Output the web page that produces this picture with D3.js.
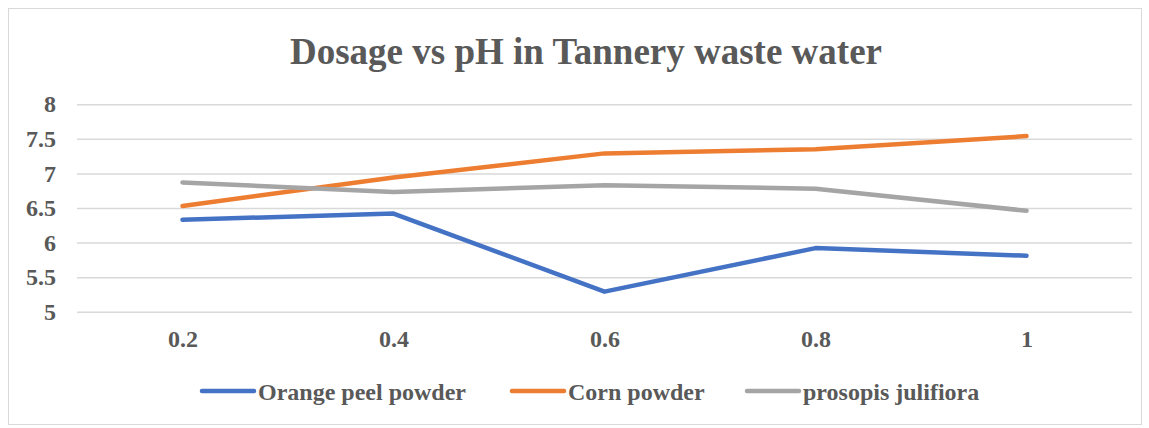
<!DOCTYPE html>
<html>
<head>
<meta charset="utf-8">
<script src="https://cdn.jsdelivr.net/npm/d3@7"></script>
<style>
  body { margin: 0; background: #fff; }
</style>
</head>
<body>
<div class="mainContainer"></div>
<script>
// data
const dosage = ['0.2', '0.4', '0.6', '0.8', '1'];
const orangePeel = [6.33, 6.42, 5.29, 5.92, 5.81];
const cornPowder = [6.53, 6.94, 7.29, 7.35, 7.54];
const prosopis = [6.87, 6.73, 6.83, 6.78, 6.46];
const yTicks = [5, 5.5, 6, 6.5, 7, 7.5, 8];
const seriesNames = ['Orange peel powder', 'Corn powder', 'prosopis julifiora'];

const series = [
    {name: seriesNames[0], values: orangePeel, color: '#4472C4'},
    {name: seriesNames[1], values: cornPowder, color: '#ED7D31'},
    {name: seriesNames[2], values: prosopis, color: '#A5A5A5'}
];

const W = 1149, H = 428;
const FONT = '"Liberation Serif", "Times New Roman", serif';
const TXT = '#595959';

const svg = d3.select('.mainContainer')
    .append('svg')
    .attr('width', W)
    .attr('height', H);

// chart area border
svg.append('rect')
    .attr('x', 8.5).attr('y', 8.5)
    .attr('width', 1133).attr('height', 416)
    .attr('fill', '#fff')
    .attr('stroke', '#D9D9D9')
    .attr('stroke-width', 1);

svg.append('text')
    .attr('x', 586).attr('y', 64)
    .attr('text-anchor', 'middle')
    .attr('font-family', FONT)
    .attr('font-weight', 'bold')
    .attr('fill', TXT)
    .attr('font-size', 37)
    .text('Dosage vs pH in Tannery waste water');

const x = d3.scalePoint()
    .domain(dosage)
    .range([77, 1132])
    .padding(0.5);

const y = d3.scaleLinear()
    .domain([5, 8])
    .range([311.7, 104.3]);

const yAxisGroup = svg.append('g')
    .attr('transform', 'translate(77,0)')
    .call(d3.axisLeft(y)
        .tickValues(yTicks)
        .tickSize(-(1132 - 77))
        .tickPadding(21)
        .tickFormat(d => d));

yAxisGroup.select('.domain').remove();
yAxisGroup.selectAll('line')
    .attr('stroke', '#D9D9D9')
    .attr('stroke-width', 1.5);
yAxisGroup.selectAll('text')
    .attr('font-size', 24)
    .attr('font-family', FONT)
    .attr('font-weight', 'bold')
    .attr('fill', TXT);

const xAxisGroup = svg.append('g')
    .attr('transform', `translate(0,${y(5)})`)
    .call(d3.axisBottom(x).tickSize(0));

xAxisGroup.select('.domain').remove();
xAxisGroup.selectAll('text')
    .attr('y', 35)
    .attr('dy', 0)
    .attr('font-size', 24)
    .attr('font-family', FONT)
    .attr('font-weight', 'bold')
    .attr('fill', TXT);

const line = d3.line()
    .x((d, i) => x(dosage[i]))
    .y(d => y(d));

svg.selectAll('path.series')
    .data(series)
    .enter()
    .append('path')
    .attr('class', 'series')
    .attr('d', d => line(d.values))
    .attr('fill', 'none')
    .attr('stroke', d => d.color)
    .attr('stroke-width', 4.5)
    .attr('stroke-linecap', 'round')
    .attr('stroke-linejoin', 'round');

// legend
const legendX = [200, 510, 745];
const legend = svg.selectAll('g.legend')
    .data(series)
    .enter()
    .append('g')
    .attr('class', 'legend')
    .attr('transform', (d, i) => `translate(${legendX[i]},391)`);

legend.append('line')
    .attr('x1', 2).attr('x2', 54)
    .attr('stroke', d => d.color)
    .attr('stroke-width', 4.5)
    .attr('stroke-linecap', 'round');

legend.append('text')
    .attr('x', 58)
    .attr('y', 9)
    .attr('font-size', 24)
    .attr('font-family', FONT)
    .attr('font-weight', 'bold')
    .attr('fill', TXT)
    .text(d => d.name);
</script>
</body>
</html>
